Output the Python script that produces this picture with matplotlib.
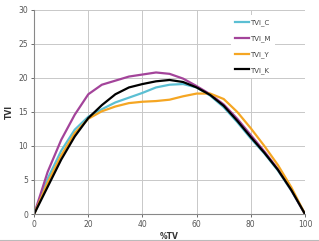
import matplotlib.pyplot as plt
from matplotlib.lines import Line2D

tv = [0, 5, 10, 15, 20, 25, 30, 35, 40, 45, 50, 55, 60, 65, 70, 75, 80, 85, 90, 95, 100]
tvi_c = [0, 5.2, 9.3, 12.4, 14.3, 15.4, 16.4, 17.1, 17.8, 18.6, 19.0, 19.1, 18.6, 17.4, 15.7, 13.5, 11.1, 8.9, 6.4, 3.4, 0]
tvi_m = [0, 6.2, 10.9, 14.6, 17.6, 19.0, 19.6, 20.2, 20.5, 20.8, 20.6, 19.9, 18.8, 17.6, 16.1, 14.0, 11.6, 9.2, 6.6, 3.5, 0]
tvi_y = [0, 4.6, 8.6, 11.9, 14.0, 15.1, 15.8, 16.3, 16.5, 16.6, 16.8, 17.3, 17.7, 17.7, 16.9, 15.0, 12.6, 10.0, 7.2, 3.9, 0]
tvi_k = [0, 4.0, 8.0, 11.4, 14.1, 16.0, 17.6, 18.6, 19.1, 19.5, 19.7, 19.4, 18.6, 17.5, 15.9, 13.7, 11.3, 9.0, 6.5, 3.5, 0]

series = [("TVI_C", tvi_c, "#5bbfd3"),
          ("TVI_M", tvi_m, "#a3449a"),
          ("TVI_Y", tvi_y, "#f5a623"),
          ("TVI_K", tvi_k, "#000000")]

fig = plt.figure(figsize=(3.19, 2.41), dpi=100)
ax = fig.add_axes([0.107, 0.112, 0.849, 0.847])

for name, vals, col in series:
    ax.plot(tv, vals, color=col, lw=1.6, label=name, solid_joinstyle="round")

ax.set_xlim(0, 100)
ax.set_ylim(0, 30)
ax.set_xticks(range(0, 101, 20))
ax.set_yticks(range(0, 31, 5))
ax.grid(True, color="#c8c8c8", lw=0.7)
ax.set_axisbelow(True)
for s in ["top", "right"]:
    ax.spines[s].set_visible(False)
for s in ["left", "bottom"]:
    ax.spines[s].set_color("#888888")
    ax.spines[s].set_linewidth(0.8)
ax.tick_params(labelsize=5.5, colors="#555555", length=2.5, width=0.6, pad=2)

ax.set_xlabel("%TV", fontsize=5.5, fontweight="bold", color="#333333", labelpad=2)
ax.set_ylabel("TVI", fontsize=5.5, fontweight="bold", color="#333333", labelpad=3)

leg = ax.legend(loc="upper left", bbox_to_anchor=(0.715, 0.99), fontsize=5, frameon=True,
                handlelength=2.0, handletextpad=0.1, labelspacing=1.3, borderpad=0.6)
leg.get_frame().set_edgecolor("none")
leg.get_frame().set_facecolor("white")
leg.get_frame().set_alpha(1)
for t in leg.get_texts():
    t.set_color("#444444")

fig.add_artist(Line2D([0, 1], [0.006, 0.006], color="#bbbbbb", lw=0.8, transform=fig.transFigure))

plt.savefig("out.png", dpi=100)
plt.close()
